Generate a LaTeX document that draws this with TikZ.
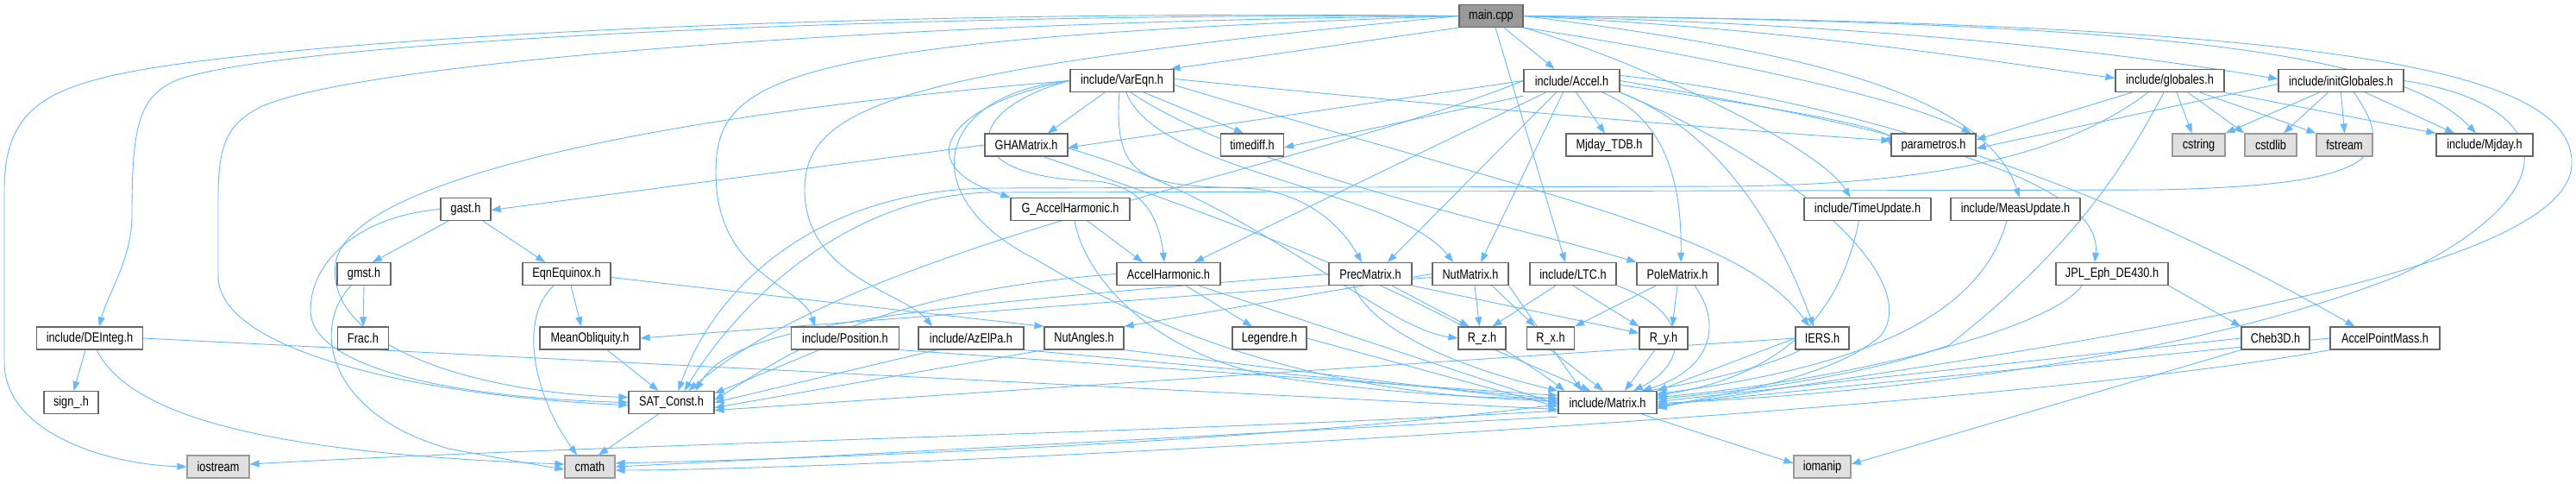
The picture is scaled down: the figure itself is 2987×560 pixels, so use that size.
\documentclass[tikz,border=0pt]{standalone}
\usepackage{fontspec}
\setmainfont{Liberation Sans}[FakeStretch=0.82]
\usetikzlibrary{arrows.meta}
\definecolor{edgec}{HTML}{63B8FF}
\definecolor{ndb}{HTML}{666666}
\definecolor{sysf}{HTML}{E0E0E0}
\definecolor{sysb}{HTML}{999999}
\definecolor{mainf}{HTML}{999999}
\pgfdeclarelayer{bg}
\pgfsetlayers{bg,main}
\begin{document}
\begin{tikzpicture}[x=1pt,y=-1pt,
 nd/.style={draw=ndb,fill=white,line width=1.2pt,minimum height=26pt,inner sep=0pt,font=\fontsize{15.5}{18}\selectfont},
 sys/.style={nd,draw=sysb,fill=sysf},
 dep/.style={draw=edgec,line width=0.9pt,-{Triangle[length=11pt,width=8pt]}}]
\useasboundingbox (0,0) rectangle (2987,560);
% row 1
\node[nd,fill=mainf,minimum width=74pt] (main) at (1729,18.5) {main.cpp};
% row 2
\node[nd,minimum width=120pt] (VarEqn) at (1301,93.5) {include/VarEqn.h};
\node[nd,minimum width=111pt] (Accel) at (1822.5,93.5) {include/Accel.h};
\node[nd,minimum width=126pt] (globales) at (2516,93.5) {include/globales.h};
\node[nd,minimum width=145pt] (initGlobales) at (2714.5,93.5) {include/initGlobales.h};
% row 3
\node[nd,minimum width=96pt] (GHAMatrix) at (1190,168) {GHAMatrix.h};
\node[nd,minimum width=73pt] (timediff) at (1452,168) {timediff.h};
\node[nd,minimum width=100pt] (MjdayTDB) at (1866,168) {Mjday\_TDB.h};
\node[nd,minimum width=98pt] (param) at (2242,168) {parametros.h};
\node[sys,minimum width=61pt] (cstring) at (2549.5,168) {cstring};
\node[sys,minimum width=60pt] (cstdlib) at (2633,168) {cstdlib};
\node[sys,minimum width=65pt] (fstream) at (2718.5,168) {fstream};
\node[nd,minimum width=112pt] (Mjday) at (2881,168) {include/Mjday.h};
% row 4
\node[nd,minimum width=58pt] (gast) at (540,242.5) {gast.h};
\node[nd,minimum width=138pt] (GAccH) at (1241,242.5) {G\_AccelHarmonic.h};
\node[nd,minimum width=147pt] (TimeUpd) at (2165.5,242.5) {include/TimeUpdate.h};
\node[nd,minimum width=150pt] (MeasUpd) at (2337,242.5) {include/MeasUpdate.h};
% row 5
\node[nd,minimum width=62pt] (gmst) at (422,317.5) {gmst.h};
\node[nd,minimum width=102pt] (EqnEq) at (657,317.5) {EqnEquinox.h};
\node[nd,minimum width=120pt] (AccH) at (1355,317.5) {AccelHarmonic.h};
\node[nd,minimum width=96pt] (Prec) at (1589,317.5) {PrecMatrix.h};
\node[nd,minimum width=88pt] (Nut) at (1705,317.5) {NutMatrix.h};
\node[nd,minimum width=100pt] (LTC) at (1824,317.5) {include/LTC.h};
\node[nd,minimum width=94pt] (Pole) at (1945,317.5) {PoleMatrix.h};
\node[nd,minimum width=130pt] (JPL) at (2449,317.5) {JPL\_Eph\_DE430.h};
% row 6
\node[nd,minimum width=123pt] (DEInteg) at (104,392) {include/DEInteg.h};
\node[nd,minimum width=59pt] (Frac) at (421,392) {Frac.h};
\node[nd,minimum width=116pt] (MeanObl) at (684,392) {MeanObliquity.h};
\node[nd,minimum width=125pt] (Position) at (980,392) {include/Position.h};
\node[nd,minimum width=122pt] (AzElPa) at (1126,392) {include/AzElPa.h};
\node[nd,minimum width=92pt] (NutAng) at (1257,392) {NutAngles.h};
\node[nd,minimum width=86pt] (Legendre) at (1472,392) {Legendre.h};
\node[nd,minimum width=55pt] (Rz) at (1718.5,392) {R\_z.h};
\node[nd,minimum width=55pt] (Rx) at (1798,392) {R\_x.h};
\node[nd,minimum width=56pt] (Ry) at (1929,392) {R\_y.h};
\node[nd,minimum width=62pt] (IERS) at (2113,392) {IERS.h};
\node[nd,minimum width=79pt] (Cheb) at (2638.5,392) {Cheb3D.h};
\node[nd,minimum width=127pt] (APM) at (2765.5,392) {AccelPointMass.h};
% row 7
\node[nd,minimum width=63pt] (sign) at (82.5,466.5) {sign\_.h};
\node[nd,minimum width=99pt] (SAT) at (778.5,466.5) {SAT\_Const.h};
\node[nd,minimum width=114pt] (Matrix) at (1864,466.5) {include/Matrix.h};
% row 8
\node[sys,minimum width=72pt] (iostream) at (253,541) {iostream};
\node[sys,minimum width=58pt] (cmath) at (684,541) {cmath};
\node[sys,minimum width=66pt] (iomanip) at (2113,541) {iomanip};

\begin{pgfonlayer}{bg}
% main.cpp
\draw[dep] (main.south west) -- ([xshift=-4pt]VarEqn.north east);
\draw[dep] ([xshift=15pt]main.south) -- ([xshift=-20pt]Accel.north);
\draw[dep] ([xshift=5pt]main.south) -- ([xshift=-9pt]LTC.north);
\draw[dep] (main.east) .. controls (2100,35) and (2300,70) .. ([yshift=3pt]globales.west);
\draw[dep] (main.east) .. controls (2200,30) and (2450,60) .. ([yshift=2pt]initGlobales.west);
\draw[dep] (main.east) .. controls (2500,25) and (2780,60) .. ([xshift=-10pt]Mjday.north);
\draw[dep] (main.east) .. controls (2700,25) and (2985,80) .. (2982,190) .. controls (2980,320) and (2400,400) .. ([yshift=-5pt]Matrix.east);
\draw[dep] (main.south east) .. controls (1950,60) and (2200,110) .. ([xshift=-6pt]param.north east);
\draw[dep] (main.south east) .. controls (1900,70) and (2110,170) .. ([xshift=-20pt]TimeUpd.north);
\draw[dep] (main.east) .. controls (2100,60) and (2300,110) .. ([xshift=5pt]MeasUpd.north);
\draw[dep] (main.west) .. controls (900,45) and (830,90) .. (830,200) .. controls (830,320) and (930,330) .. ([xshift=-35pt]Position.north);
\draw[dep] (main.west) .. controls (1050,80) and (933,120) .. (933,220) .. controls (933,320) and (1050,340) .. ([xshift=-45pt]AzElPa.north);
\draw[dep] (main.west) .. controls (1000,15) and (300,50) .. (200,95) .. controls (160,115) and (153,150) .. (153,250) .. controls (153,300) and (125,340) .. ([xshift=11pt]DEInteg.north);
\draw[dep] (main.west) .. controls (1000,10) and (300,45) .. (120,90) .. controls (40,110) and (5,140) .. (5,220) -- (5,420) .. controls (5,500) and (120,538) .. (iostream.west);
\draw[dep] (main.west) .. controls (1000,25) and (400,75) .. (300,125) .. controls (262,145) and (253,170) .. (253,230) -- (253,320) .. controls (253,410) and (500,460) .. ([yshift=-3pt]SAT.west);
% VarEqn
\draw[dep] ([xshift=-20pt]VarEqn.south) -- ([xshift=25pt]GHAMatrix.north);
\draw[dep] ([xshift=25pt]VarEqn.south) -- ([xshift=-10pt]timediff.north);
\draw[dep] (VarEqn.west) .. controls (1100,120) and (1050,190) .. (GAccH.north west);
\draw[dep] (VarEqn.west) .. controls (1120,125) and (1100,205) .. (1270,210) .. controls (1330,215) and (1345,260) .. ([xshift=-5pt]AccH.north);
\draw[dep] ([xshift=-3pt]VarEqn.south) .. controls (1290,210) and (1330,215) .. (1440,218) .. controls (1520,220) and (1560,270) .. ([xshift=-10pt]Prec.north);
\draw[dep] ([xshift=5pt]VarEqn.south) .. controls (1340,200) and (1620,220) .. ([xshift=-20pt]Nut.north);
\draw[dep] ([xshift=10pt]VarEqn.south) .. controls (1450,200) and (1750,260) .. (Pole.north west);
\draw[dep] ([yshift=-5pt]VarEqn.east) .. controls (1800,230) and (2020,270) .. ([xshift=-15pt]IERS.north);
\draw[dep] ([yshift=2pt]VarEqn.east) .. controls (1700,125) and (2000,150) .. ([yshift=5pt]param.west);
\draw[dep] (VarEqn.west) .. controls (1080,110) and (1060,230) .. (1200,300) .. controls (1400,420) and (1600,460) .. ([yshift=2pt]Matrix.west);
\draw[dep] (VarEqn.west) .. controls (800,130) and (420,200) .. (390,300) .. controls (370,400) and (550,455) .. ([yshift=6pt]SAT.west);
% Accel
\draw[dep] (Accel.west) -- ([yshift=-3pt]GHAMatrix.east);
\draw[dep] ([yshift=-4pt]Accel.south west) -- ([yshift=-3pt]timediff.east);
\draw[dep] ([xshift=5pt]Accel.south) -- ([xshift=-5pt]MjdayTDB.north);
\draw[dep] ([xshift=-30pt]Accel.south) -- ([xshift=30pt]AccH.north);
\draw[dep] ([xshift=-18pt]Accel.south) -- ([xshift=20pt]Prec.north);
\draw[dep] ([xshift=-10pt]Accel.south) -- ([xshift=12pt]Nut.north);
\draw[dep] ([xshift=35pt]Accel.south) .. controls (1940,140) and (1950,230) .. ([xshift=4pt]Pole.north);
\draw[dep] (Accel.south east) .. controls (1990,150) and (2060,260) .. ([xshift=-10pt]IERS.north);
\draw[dep] ([yshift=-5pt]Accel.east) .. controls (2100,130) and (2190,150) .. ([yshift=-2pt]param.west);
\draw[dep] (Accel.east) .. controls (2150,140) and (2440,200) .. ([xshift=-20pt]JPL.north);
\draw[dep] ([yshift=6pt]Accel.east) .. controls (2100,110) and (2400,190) .. ([xshift=-35pt]APM.north);
\draw[dep] (Accel.south east) .. controls (2100,200) and (2230,330) .. (2180,390) .. controls (2120,440) and (2000,455) .. ([yshift=-7pt]Matrix.east);
\draw[dep] (Accel.west) .. controls (1500,200) and (1000,280) .. ([xshift=20pt]SAT.north);
% globales
\draw[dep] ([xshift=8pt]globales.south) -- ([xshift=-8pt]cstring.north);
\draw[dep] ([xshift=21pt]globales.south) -- (cstdlib.north west);
\draw[dep] ([xshift=35pt]globales.south) -- (fstream.north west);
\draw[dep] (globales.south east) -- (Mjday.north west);
\draw[dep] ([xshift=20pt]globales.south west) -- ([yshift=6pt]param.east);
\draw[dep] ([xshift=-7pt]globales.south) .. controls (2460,200) and (2400,290) .. (2260,400) .. controls (2150,440) and (2000,455) .. ([yshift=4pt]Matrix.east);
\draw[dep] ([xshift=-25pt]globales.south) .. controls (2420,160) and (2300,214) .. (2000,216) -- (1150,218) .. controls (950,220) and (830,330) .. ([xshift=8pt]SAT.north);
% initGlobales
\draw[dep] ([xshift=-25pt]initGlobales.south) -- (cstring.north east);
\draw[dep] ([xshift=-15pt]initGlobales.south) -- ([xshift=15pt]cstdlib.north);
\draw[dep] (initGlobales.south) -- (fstream.north);
\draw[dep] ([xshift=28pt]initGlobales.south) -- ([xshift=-35pt]Mjday.north);
\draw[dep] ([yshift=-4pt]initGlobales.west) -- ([yshift=-4pt]param.east);
\draw[dep] (initGlobales.east) .. controls (2960,120) and (2990,220) .. (2780,320) .. controls (2500,430) and (2100,460) .. ([yshift=-1pt]Matrix.east);
\draw[dep] ([xshift=15pt]initGlobales.south) .. controls (2780,180) and (2760,215) .. (2500,220) -- (1150,223) .. controls (1000,225) and (870,330) .. ([xshift=15pt]SAT.north);
% GHAMatrix
\draw[dep] (GHAMatrix.west) -- ([yshift=-1pt]gast.east);
\draw[dep] ([yshift=-4pt]GHAMatrix.east) .. controls (1450,230) and (1600,380) .. (Rz.west);
\draw[dep] ([xshift=20pt]GHAMatrix.south) .. controls (1350,230) and (1650,330) .. ([xshift=8pt]Matrix.north west);
% G_AccelHarmonic
\draw[dep] ([xshift=20pt]GAccH.south) -- ([xshift=-30pt]AccH.north);
\draw[dep] ([xshift=5pt]GAccH.south) .. controls (1260,330) and (1350,420) .. (1500,440) .. controls (1650,460) and (1750,462) .. ([yshift=5pt]Matrix.west);
% gast
\draw[dep] ([xshift=-20pt]gast.south) -- ([xshift=10pt]gmst.north);
\draw[dep] ([xshift=20pt]gast.south) -- ([xshift=-25pt]EqnEq.north);
\draw[dep] (gast.west) .. controls (420,250) and (360,300) .. (360,360) .. controls (360,420) and (500,460) .. (SAT.west);
% gmst
\draw[dep] (gmst.south) -- (Frac.north);
\draw[dep] ([xshift=-15pt]gmst.south) .. controls (360,380) and (380,480) .. (520,520) .. controls (600,535) and (630,540) .. ([yshift=-3pt]cmath.west);
% EqnEquinox
\draw[dep] ([xshift=5pt]EqnEq.south) -- ([xshift=-10pt]MeanObl.north);
\draw[dep] ([yshift=-4pt]EqnEq.east) -- (NutAng.north west);
\draw[dep] ([xshift=-15pt]EqnEq.south) .. controls (600,370) and (620,460) .. ([xshift=-15pt]cmath.north);
% others to SAT_Const
\draw[dep] ([xshift=20pt]MeanObl.south) -- ([xshift=-15pt]SAT.north);
\draw[dep] ([xshift=-30pt]Position.south) -- ([yshift=-3pt]SAT.north east);
\draw[dep] ([xshift=-40pt]AzElPa.south) -- (SAT.east);
\draw[dep] (NutAng.south west) -- ([yshift=-6pt]SAT.east);
\draw[dep] (AccH.west) .. controls (1000,340) and (900,420) .. ([yshift=3pt]SAT.east);
\draw[dep] (Prec.west) .. controls (1000,360) and (850,380) .. ([xshift=28pt]SAT.north);
\draw[dep] (IERS.west) -- ([yshift=-9pt]SAT.east);
% to Matrix
\draw[dep] (Position.south east) -- ([yshift=8pt]Matrix.west);
\draw[dep] (AzElPa.south east) -- ([yshift=4pt]Matrix.west);
\draw[dep] (NutAng.south east) -- ([yshift=0pt]Matrix.west);
\draw[dep] ([xshift=35pt]AccH.south) -- ([yshift=-2pt]Matrix.west);
\draw[dep] (Legendre.east) -- ([yshift=-5pt]Matrix.west);
\draw[dep] ([xshift=-20pt]Prec.south) .. controls (1600,400) and (1750,440) .. (Matrix.north west);
\draw[dep] (Nut.south east) -- ([xshift=-30pt]Matrix.north);
\draw[dep] ([xshift=15pt]Rz.south) -- ([xshift=-20pt]Matrix.north);
\draw[dep] (Rx.south) -- ([xshift=-5pt]Matrix.north);
\draw[dep] ([xshift=-10pt]Ry.south) -- ([xshift=20pt]Matrix.north);
\draw[dep] (LTC.south east) .. controls (1960,360) and (1960,420) .. ([xshift=30pt]Matrix.north);
\draw[dep] ([xshift=20pt]Pole.south) .. controls (2000,380) and (1980,430) .. ([xshift=40pt]Matrix.north);
\draw[dep] (IERS.west) -- (Matrix.north east);
\draw[dep] ([xshift=-35pt]JPL.south) .. controls (2380,380) and (2150,440) .. ([yshift=6pt]Matrix.east);
\draw[dep] (Cheb.west) -- ([yshift=1pt]Matrix.east);
\draw[dep] (APM.west) -- ([yshift=-3pt]Matrix.east);
\draw[dep] ([xshift=-10pt]TimeUpd.south) .. controls (2140,330) and (2100,430) .. ([yshift=8pt]Matrix.east);
\draw[dep] ([xshift=-10pt]MeasUpd.south) .. controls (2300,350) and (2200,420) .. ([yshift=10pt]Matrix.east);
\draw[dep] (DEInteg.east) -- ([yshift=-8pt]Matrix.west);
% rotations
\draw[dep] ([xshift=25pt]Prec.south) -- ([xshift=-15pt]Rz.north);
\draw[dep] (Prec.south east) -- ([yshift=6pt]Ry.west);
\draw[dep] (Nut.west) -- (NutAng.north east);
\draw[dep] ([yshift=-4pt]Nut.west) -- (MeanObl.east);
\draw[dep] ([xshift=25pt]Nut.south) -- ([xshift=-18pt]Rx.north);
\draw[dep] ([xshift=5pt]Nut.south) -- ([xshift=-3pt]Rz.north);
\draw[dep] (LTC.south) -- (Ry.north west);
\draw[dep] ([xshift=-20pt]LTC.south) -- ([xshift=12pt]Rz.north);
\draw[dep] ([xshift=-25pt]Pole.south) -- (Rx.north east);
\draw[dep] (Pole.south) -- ([xshift=10pt]Ry.north);
\draw[dep] ([xshift=20pt]AccH.south) -- ([xshift=-20pt]Legendre.north);
\draw[dep] (JPL.south east) -- (Cheb.north west);
% misc
\draw[dep] ([xshift=-5pt]DEInteg.south) -- ([xshift=3pt]sign.north);
\draw[dep] ([xshift=8pt]DEInteg.south) .. controls (150,480) and (300,525) .. ([yshift=3pt]cmath.west);
\draw[dep] ([xshift=-15pt]SAT.south) -- ([xshift=10pt]cmath.north);
\draw[dep] ([xshift=-25pt]IERS.south) .. controls (1900,500) and (1000,530) .. ([yshift=4pt]cmath.east);
\draw[dep] (APM.south west) .. controls (2300,480) and (1000,545) .. ([yshift=-4pt]cmath.east);
\draw[dep] (Cheb.south west) -- ([yshift=3pt]iomanip.east);
\draw[dep] ([yshift=-3pt]Matrix.south west) .. controls (1500,500) and (900,532) .. (cmath.east);
\draw[dep] ([yshift=4pt]Matrix.south west) .. controls (1400,500) and (700,515) .. ([yshift=3pt]iostream.east);
\draw[dep] ([xshift=40pt]Matrix.south) -- ([yshift=4pt]iomanip.west);
\end{pgfonlayer}
\end{tikzpicture}
\end{document}
